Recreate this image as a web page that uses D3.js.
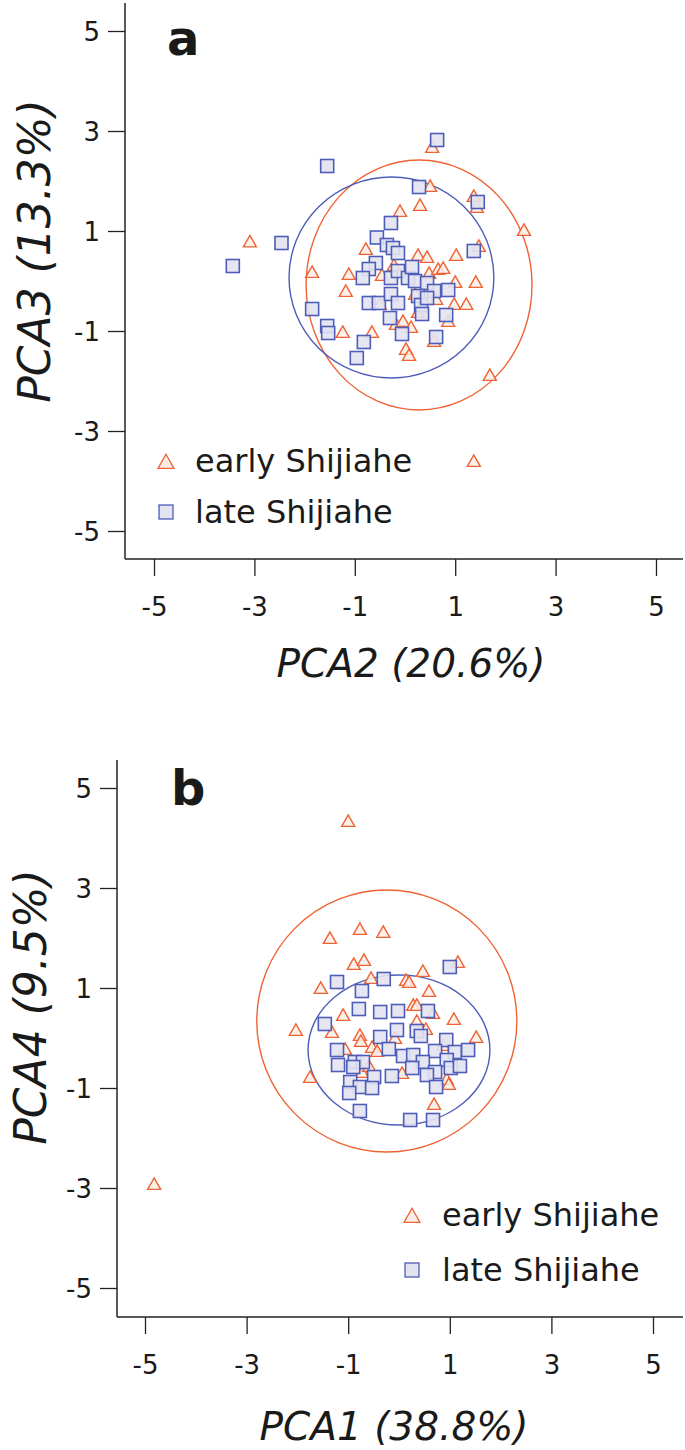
<!DOCTYPE html>
<html><head><meta charset="utf-8">
<script src="https://cdn.jsdelivr.net/npm/d3@7"></script>
<style>html,body{margin:0;padding:0;background:#fff;}svg{display:block;}</style>
</head><body>
<script>
// ---- data ----
const tickValues = [-5, -3, -1, 1, 3, 5];
const seriesNames = ["early Shijiahe", "late Shijiahe"];
const panelLetters = ["a", "b"];
const xTitles = ["PCA2 (20.6%)", "PCA1 (38.8%)"];
const yTitles = ["PCA3 (13.3%)", "PCA4 (9.5%)"];

// panel a: PCA2 vs PCA3
const aEarly = [[-3.09,0.77],[-1.85,0.16],[-1.12,0.12],[-1.18,-0.22],[-1.24,-1.04],[-0.78,0.62],[-0.46,0.1],
 [-0.5,-0.48],[-0.66,-1.04],[-0.18,-0.88],[-0.04,-0.82],[0.12,-0.94],[0.02,-1.38],[0.08,-1.5],[0.26,0.5],
 [0.44,0.46],[0.48,0.14],[0.66,0.22],[0.76,0.24],[1.02,0.5],[1.47,0.68],[1.0,-0.04],[1.41,-0.04],[0.62,-0.38],
 [0.98,-0.48],[1.22,-0.48],[0.86,-0.82],[0.26,-0.64],[0.58,-1.22],[1.69,-1.9],[1.37,-3.62],[2.37,1.0],
 [1.37,1.68],[1.43,1.46],[0.54,2.66],[0.5,1.88],[0.3,1.5],[-0.1,1.38],[0.2,-0.28],[-0.22,0.3]];
const aLate = [[-3.43,0.3],[-2.46,0.76],[-1.55,2.3],[-1.85,-0.56],[-1.55,-0.9],[-1.53,-1.04],[-0.96,-1.54],
 [-0.82,-1.22],[-0.56,0.87],[-0.36,0.72],[-0.24,0.66],[-0.14,0.56],[-0.28,1.16],[-0.58,0.36],[-0.72,0.24],
 [-0.84,0.06],[-0.28,0.06],[-0.14,0.2],[0.06,0.06],[0.14,0.28],[0.2,0.0],[0.44,-0.04],[0.58,-0.2],[0.86,-0.18],
 [-0.72,-0.44],[-0.52,-0.44],[-0.28,-0.26],[-0.14,-0.44],[0.26,-0.3],[0.32,-0.48],[0.44,-0.34],[0.34,-0.66],
 [-0.3,-0.74],[-0.06,-1.06],[0.62,-1.12],[0.82,-0.68],[0.64,2.82],[0.28,1.88],[1.45,1.58],[1.37,0.6]];
// confidence ellipses [cx, cy, rx, ry]
const aEllipseEarly = [0.28, -0.08, 2.25, 2.5];
const aEllipseLate = [-0.27, 0.07, 2.04, 2.01];

// panel b: PCA1 vs PCA4
const bEarly = [[-4.82,-2.94],[-1.0,4.32],[-1.36,1.98],[-0.77,2.16],[-0.31,2.1],[-0.89,1.46],[-0.69,1.54],
 [1.16,1.5],[0.47,1.32],[-1.54,0.98],[-0.55,1.18],[0.14,1.14],[0.2,1.1],[0.59,0.92],[-1.1,0.44],[0.28,0.64],
 [0.35,0.64],[0.67,0.48],[1.08,0.36],[-2.03,0.14],[-1.32,0.1],[-0.77,0.04],[-0.75,-0.08],[0.35,0.32],
 [0.53,0.16],[-0.08,-0.02],[1.52,0.0],[-1.06,-0.24],[-0.53,-0.2],[-0.43,-0.28],[0.87,-0.16],[-1.75,-0.8],
 [-0.73,-0.7],[-0.59,-0.58],[0.06,-0.72],[0.94,-0.84],[0.98,-0.94],[0.69,-1.34]];
const bLate = [[-1.22,1.12],[-0.3,1.18],[-0.73,0.94],[1.0,1.42],[-0.79,0.58],[-0.37,0.52],[-0.02,0.54],
 [0.57,0.54],[-1.46,0.28],[-0.04,0.16],[0.35,0.14],[0.43,0.04],[-0.37,0.02],[0.93,-0.04],[-1.22,-0.24],
 [-0.2,-0.22],[0.08,-0.36],[0.28,-0.34],[0.71,-0.26],[1.1,-0.28],[1.36,-0.24],[-1.2,-0.54],[-0.87,-0.48],
 [-0.71,-0.48],[-0.9,-0.58],[0.47,-0.48],[0.94,-0.44],[0.26,-0.6],[0.71,-0.68],[1.02,-0.6],[1.2,-0.56],
 [0.55,-0.74],[-0.49,-0.78],[-0.14,-0.76],[-0.96,-0.88],[-0.77,-0.98],[-0.53,-1.0],[-0.98,-1.1],[0.73,-0.98],
 [-0.77,-1.46],[0.22,-1.64],[0.67,-1.64]];
const bEllipseEarly = [-0.24, 0.34, 2.56, 2.62];
const bEllipseLate = [0.0, -0.24, 1.79, 1.5];

// ---- styling ----
const C = {
  earlyStroke: "#EF6233", earlyFill: "#FBEDE6",
  lateStroke: "#4D5DB8", lateFill: "#E2E3F1",
  axis: "#222", text: "#1a1a1a"
};
const FONT = "'DejaVu Sans', sans-serif";

const svg = d3.select("body").append("svg").attr("width", 685).attr("height", 1450);

const panels = [
  { early: aEarly, late: aLate, eE: aEllipseEarly, eL: aEllipseLate,
    left: 125, right: 683, top: 3, bottom: 559,
    xr: [154, 656], yr: [531, 31],
    letter: [167, 55], xTitle: [411, 677], yTitle: [50, 251],
    legend: { x: 166, y1: 463, y2: 512, tx: 195 } },
  { early: bEarly, late: bLate, eE: bEllipseEarly, eL: bEllipseLate,
    left: 117, right: 683, top: 760, bottom: 1317,
    xr: [145, 653], yr: [1288, 788],
    letter: [171, 805], xTitle: [394, 1440], yTitle: [46, 1007],
    legend: { x: 412, y1: 1217, y2: 1270, tx: 442 } }
];

const triPath = (s) => { const h = s * 0.88; return `M0,${-h*0.62}L${s/2},${h*0.38}L${-s/2},${h*0.38}Z`; };
const fmt = d => String(d);

panels.forEach((p, i) => {
  const g = svg.append("g");
  const x = d3.scaleLinear().domain([-5, 5]).range(p.xr);
  const y = d3.scaleLinear().domain([-5, 5]).range(p.yr);

  // axes
  const ya = g.append("g").attr("transform", `translate(${p.left},0)`)
    .call(d3.axisLeft(y).tickValues(tickValues).tickSize(17).tickSizeOuter(0).tickPadding(8).tickFormat(fmt));
  ya.select(".domain").remove();
  ya.selectAll("line").attr("stroke", C.axis).attr("stroke-width", 1.3);
  ya.selectAll("text").attr("font-family", FONT).attr("font-size", 26).attr("fill", C.text).attr("dy", "0.36em");

  const xa = g.append("g").attr("transform", `translate(0,${p.bottom})`)
    .call(d3.axisBottom(x).tickValues(tickValues).tickSize(17).tickSizeOuter(0).tickPadding(22).tickFormat(fmt));
  xa.select(".domain").remove();
  xa.selectAll("line").attr("stroke", C.axis).attr("stroke-width", 1.3);
  xa.selectAll("text").attr("font-family", FONT).attr("font-size", 26).attr("fill", C.text);

  g.append("line").attr("x1", p.left).attr("x2", p.left).attr("y1", p.top).attr("y2", p.bottom)
    .attr("stroke", C.axis).attr("stroke-width", 1.5);
  g.append("line").attr("x1", p.left).attr("x2", p.right).attr("y1", p.bottom).attr("y2", p.bottom)
    .attr("stroke", C.axis).attr("stroke-width", 1.5);

  // ellipses
  [[p.eE, C.earlyStroke], [p.eL, C.lateStroke]].forEach(([e, col]) => {
    g.append("ellipse").attr("cx", x(e[0])).attr("cy", y(e[1]))
      .attr("rx", x(e[0] + e[2]) - x(e[0])).attr("ry", y(e[1]) - y(e[1] + e[3]))
      .attr("fill", "none").attr("stroke", col).attr("stroke-width", 1.4);
  });

  // markers
  g.append("g").selectAll("path").data(p.early).join("path")
    .attr("d", triPath(13)).attr("transform", d => `translate(${x(d[0])},${y(d[1])})`)
    .attr("fill", C.earlyFill).attr("fill-opacity", 0.85).attr("stroke", C.earlyStroke).attr("stroke-width", 1.4);
  g.append("g").selectAll("rect").data(p.late).join("rect")
    .attr("x", d => x(d[0]) - 6.5).attr("y", d => y(d[1]) - 6.5).attr("width", 13).attr("height", 13)
    .attr("fill", C.lateFill).attr("fill-opacity", 0.9).attr("stroke", C.lateStroke).attr("stroke-width", 1.6);

  // legend
  const L = p.legend;
  g.append("path").attr("d", triPath(16)).attr("transform", `translate(${L.x},${L.y1})`)
    .attr("fill", C.earlyFill).attr("stroke", C.earlyStroke).attr("stroke-width", 1.3);
  g.append("rect").attr("x", L.x - 7).attr("y", L.y2 - 7).attr("width", 14).attr("height", 14)
    .attr("fill", C.lateFill).attr("stroke", C.lateStroke).attr("stroke-width", 1.3);
  g.append("text").attr("x", L.tx).attr("y", L.y1 + 9).text(seriesNames[0])
    .attr("font-family", FONT).attr("font-size", 32).attr("fill", C.text);
  g.append("text").attr("x", L.tx).attr("y", L.y2 + 11).text(seriesNames[1])
    .attr("font-family", FONT).attr("font-size", 32).attr("fill", C.text);

  // panel letter
  g.append("text").attr("x", p.letter[0]).attr("y", p.letter[1]).text(panelLetters[i])
    .attr("font-family", FONT).attr("font-weight", "bold").attr("font-size", 48).attr("fill", C.text);

  // axis titles
  g.append("text").attr("x", p.xTitle[0]).attr("y", p.xTitle[1]).attr("text-anchor", "middle")
    .text(xTitles[i]).attr("font-family", FONT).attr("font-style", "italic").attr("font-size", 39).attr("fill", C.text);
  g.append("text").attr("transform", `translate(${p.yTitle[0]},${p.yTitle[1]}) rotate(-90)`).attr("text-anchor", "middle")
    .text(yTitles[i]).attr("font-family", FONT).attr("font-style", "italic").attr("font-size", 44).attr("fill", C.text);
});
</script>
</body></html>
